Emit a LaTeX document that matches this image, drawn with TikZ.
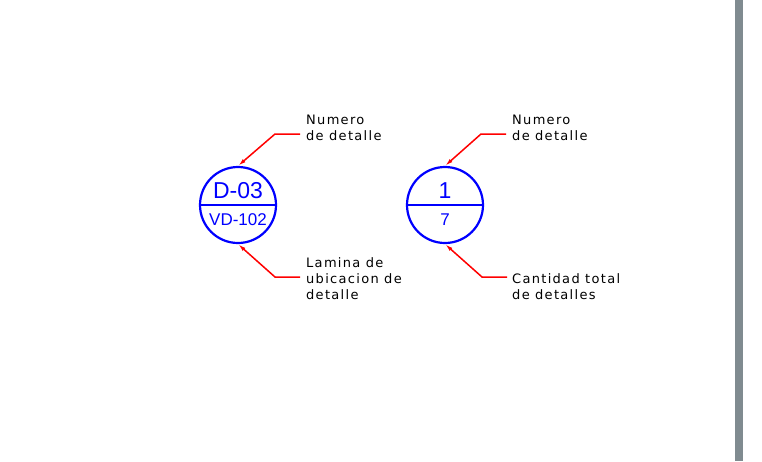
\documentclass[tikz,border=0pt]{standalone}
\usepackage{fontspec}
\setmainfont{Liberation Sans}
\newfontfamily\lblfont[LetterSpace=10]{DejaVu Sans}
\usetikzlibrary{arrows.meta}
\definecolor{cadblue}{RGB}{0,0,255}
\definecolor{cadred}{RGB}{255,0,0}
\definecolor{bargray}{RGB}{128,139,144}
\tikzset{
  bubble/.style={circle,draw=cadblue,line width=2.2pt,minimum size=76pt,inner sep=0pt},
  divider/.style={draw=cadblue,line width=2.2pt},
  bigtxt/.style={text=cadblue,font=\fontsize{23}{23}\selectfont,inner sep=0pt},
  smalltxt/.style={text=cadblue,font=\fontsize{17}{17}\selectfont,inner sep=0pt},
  leader/.style={draw=cadred,line width=1.5pt,{Latex[length=8pt,width=4pt]}-},
  lbl/.style={anchor=base west,inner sep=0pt,font=\lblfont\fontsize{13}{13}\selectfont,text=black}
}
\begin{document}
\begin{tikzpicture}[x=1pt,y=-1pt]
\useasboundingbox (0,0) rectangle (762,461);
\fill[bargray] (735,0) rectangle (743,461);
% left bubble
\node[bubble] (c1) at (238,205) {};
\draw[divider] (c1.west) -- (c1.east);
\node[bigtxt] (c1t) at (238,191) {D-03};
\node[smalltxt] (c1b) at (238,220) {VD-102};
\coordinate (l1a) at (275,134);
\coordinate (l1b) at (300,134);
\draw[leader] (c1.north) -- (l1a) -- (l1b);
\coordinate (l2a) at (275,277);
\coordinate (l2b) at (300,277);
\draw[leader] (c1.south) -- (l2a) -- (l2b);
\node[lbl] (t1) at (306,124) {Numero};
\node[lbl] (t2) at (306,140) {de detalle};
\node[lbl] (t3) at (306,267) {Lamina de};
\node[lbl] (t4) at (306,283) {ubicacion de};
\node[lbl] (t5) at (306,299) {detalle};
% right bubble
\node[bubble] (c2) at (445,205) {};
\draw[divider] (c2.west) -- (c2.east);
\node[bigtxt] (c2t) at (445,191) {1};
\node[smalltxt] (c2b) at (445,220) {7};
\coordinate (r1a) at (481,134);
\coordinate (r1b) at (506,134);
\draw[leader] (c2.north) -- (r1a) -- (r1b);
\coordinate (r2a) at (482,277);
\coordinate (r2b) at (507,277);
\draw[leader] (c2.south) -- (r2a) -- (r2b);
\node[lbl] (u1) at (512,124) {Numero};
\node[lbl] (u2) at (512,140) {de detalle};
\node[lbl] (u3) at (512,283) {Cantidad total};
\node[lbl] (u4) at (512,299) {de detalles};
\end{tikzpicture}
\end{document}
